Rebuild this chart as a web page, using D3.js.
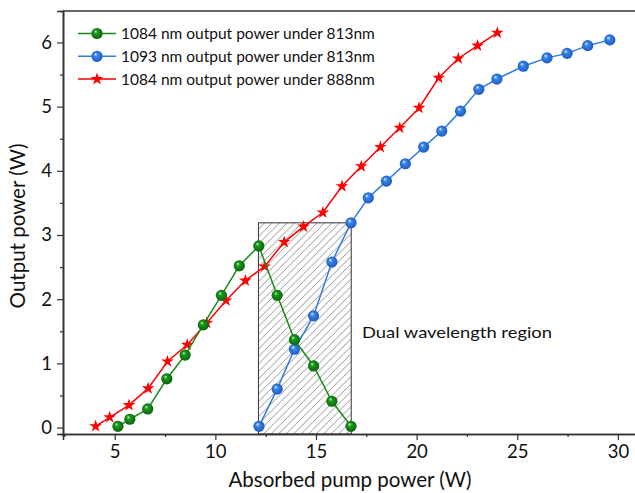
<!DOCTYPE html>
<html lang="en">
<head>
<meta charset="utf-8">
<title>Output power vs absorbed pump power</title>
<script src="https://cdn.jsdelivr.net/npm/d3@7"></script>
<style>
  body { margin: 0; background: #fff; }
  svg text { font-family: Lato, "Open Sans", sans-serif; fill: #111; }
</style>
</head>
<body>
<div id="chart"></div>
<script>
// 1084 nm output under 813 nm pump (green)
var green813X = [5.16, 5.75, 6.64, 7.59, 8.5, 9.4, 10.3, 11.19, 12.16, 13.07, 13.93, 14.88, 15.79, 16.74];
var green813Y = [0.02, 0.13, 0.29, 0.76, 1.13, 1.6, 2.06, 2.52, 2.83, 2.06, 1.37, 0.96, 0.41, 0.02];
// 1093 nm output under 813 nm pump (blue)
var blue813X = [12.17, 13.07, 13.93, 14.88, 15.79, 16.74, 17.6, 18.5, 19.44, 20.35, 21.25, 22.18, 23.09, 23.99, 25.3, 26.48, 27.48, 28.5, 29.6];
var blue813Y = [0.02, 0.6, 1.22, 1.74, 2.58, 3.19, 3.58, 3.84, 4.11, 4.37, 4.62, 4.93, 5.27, 5.43, 5.63, 5.76, 5.83, 5.95, 6.04];
// 1084 nm output under 888 nm pump (red)
var red888X = [4.05, 4.75, 5.71, 6.66, 7.62, 8.6, 9.57, 10.53, 11.49, 12.45, 13.42, 14.38, 15.34, 16.29, 17.25, 18.2, 19.16, 20.12, 21.1, 22.07, 23.03, 24.01];
var red888Y = [0.02, 0.16, 0.35, 0.61, 1.03, 1.29, 1.63, 1.98, 2.29, 2.51, 2.89, 3.13, 3.35, 3.76, 4.07, 4.37, 4.67, 4.98, 5.45, 5.75, 5.95, 6.15];

var seriesNames = ["1084 nm output power under 813nm", "1093 nm output power under 813nm", "1084 nm output power under 888nm"];
var xTicks = [5, 10, 15, 20, 25, 30];
var yTicks = [0, 1, 2, 3, 4, 5, 6];
// dual wavelength region (x from, x to, top y)
var regionX = [12.14, 16.75];
var regionTop = 3.19;
var regionLabel = "Dual wavelength region";

var W = 635, H = 493;
var margin = {left: 63, top: 11, right: -2, bottom: 59};

var svg = d3.select("#chart").append("svg")
    .attr("width", W).attr("height", H);

var x = d3.scaleLinear().domain([2.43, 30.95]).range([margin.left, W - margin.right]);
var y = d3.scaleLinear().domain([-0.1, 6.49]).range([H - margin.bottom, margin.top]);

var defs = svg.append("defs");

// hatch pattern for the region, lines rising to the right
var hs = 7.5;
var pat = defs.append("pattern")
    .attr("id", "hatch")
    .attr("patternUnits", "userSpaceOnUse")
    .attr("width", hs).attr("height", hs);
pat.append("path")
    .attr("d", "M0," + hs + "L" + hs + ",0")
    .attr("stroke", "#666").attr("stroke-width", 0.7);

// shiny ball gradients
function ballGrad(id, light, mid, dark) {
    var g = defs.append("radialGradient")
        .attr("id", id)
        .attr("cx", "50%").attr("cy", "50%").attr("r", "55%")
        .attr("fx", "35%").attr("fy", "30%");
    g.append("stop").attr("offset", "0%").attr("stop-color", light);
    g.append("stop").attr("offset", "30%").attr("stop-color", mid);
    g.append("stop").attr("offset", "100%").attr("stop-color", dark);
}
ballGrad("gGreen", "#c8eec0", "#1a9a1a", "#0a5e0a");
ballGrad("gBlue", "#eef5ff", "#3a86ea", "#1a55b8");

// region box
svg.append("rect")
    .attr("x", x(regionX[0]))
    .attr("y", y(regionTop))
    .attr("width", x(regionX[1]) - x(regionX[0]))
    .attr("height", y(-0.1) - y(regionTop))
    .attr("fill", "url(#hatch)")
    .attr("stroke", "#333").attr("stroke-width", 1);

svg.append("text")
    .attr("x", 362).attr("y", 338)
    .attr("font-size", 16)
    .attr("textLength", 190)
    .attr("lengthAdjust", "spacingAndGlyphs")
    .text(regionLabel);

// axes
var xAxis = d3.axisBottom(x).tickValues(xTicks).tickSize(6).tickPadding(5).tickFormat(d3.format("d"));
var xMinor = d3.axisBottom(x).tickValues(d3.range(2.5, 31, 2.5).filter(function(v) { return v % 5 != 0; })).tickSize(3).tickFormat("");
var yAxis = d3.axisLeft(y).tickValues(yTicks).tickSize(6).tickPadding(5).tickFormat(d3.format("d"));
var yMinor = d3.axisLeft(y).tickValues(d3.range(0.5, 6.5, 1)).tickSize(3).tickFormat("");

var gx = svg.append("g").attr("transform", "translate(0," + (H - margin.bottom) + ")").call(xAxis);
svg.append("g").attr("transform", "translate(0," + (H - margin.bottom) + ")").call(xMinor);
var gy = svg.append("g").attr("transform", "translate(" + margin.left + ",0)").call(yAxis);
svg.append("g").attr("transform", "translate(" + margin.left + ",0)").call(yMinor);

svg.selectAll(".domain").attr("stroke", "#333").attr("stroke-width", 1.6);
svg.selectAll(".tick line").attr("stroke", "#333").attr("stroke-width", 1.2);
gx.selectAll("text").attr("font-size", 18.5).attr("font-family", "Lato, sans-serif").attr("fill", "#111");
gy.selectAll("text").attr("font-size", 18.5).attr("font-family", "Lato, sans-serif").attr("fill", "#111");

// top frame line
svg.append("line")
    .attr("x1", margin.left).attr("x2", W)
    .attr("y1", margin.top).attr("y2", margin.top)
    .attr("stroke", "#333").attr("stroke-width", 1.6);

// axis titles
svg.append("text")
    .attr("x", 350).attr("y", 487)
    .attr("text-anchor", "middle")
    .attr("font-size", 20.5)
    .text("Absorbed pump power (W)");
svg.append("text")
    .attr("transform", "translate(25,226) rotate(-90)")
    .attr("text-anchor", "middle")
    .attr("font-size", 20.5)
    .text("Output power (W)");

// series
function zip(xs, ys) { return xs.map(function(v, i) { return [v, ys[i]]; }); }
var line = d3.line().x(function(d) { return x(d[0]); }).y(function(d) { return y(d[1]); });

var series = [
    {name: seriesNames[0], data: zip(green813X, green813Y), color: "#1a8c1a", marker: "ball", fill: "url(#gGreen)"},
    {name: seriesNames[1], data: zip(blue813X, blue813Y), color: "#2f7ee0", marker: "ball", fill: "url(#gBlue)"},
    {name: seriesNames[2], data: zip(red888X, red888Y), color: "#ff0000", marker: "star", fill: "#ff0000"}
];

var star = d3.symbol().type(d3.symbolStar).size(50);

function drawMarker(g, s, px, py) {
    if (s.marker == "ball") {
        g.append("circle").attr("cx", px).attr("cy", py).attr("r", 5.6)
            .attr("fill", s.fill);
    } else {
        g.append("path").attr("d", star()).attr("transform", "translate(" + px + "," + py + ")")
            .attr("fill", s.fill);
    }
}

// draw red first, then blue, then green on top
[2, 1, 0].forEach(function(i) {
    var s = series[i];
    var g = svg.append("g");
    g.append("path").datum(s.data)
        .attr("d", line)
        .attr("fill", "none")
        .attr("stroke", s.color)
        .attr("stroke-width", 1.5);
    s.data.forEach(function(d) { drawMarker(g, s, x(d[0]), y(d[1])); });
});

// legend
var leg = svg.append("g");
series.forEach(function(s, i) {
    var ly = 33.5 + i * 22.8;
    leg.append("line").attr("x1", 78).attr("x2", 116).attr("y1", ly).attr("y2", ly)
        .attr("stroke", s.color).attr("stroke-width", 1.5);
    drawMarker(leg, s, 97, ly);
    leg.append("text").attr("x", 121).attr("y", ly + 5.5)
        .attr("font-size", 15.5)
        .text(s.name);
});
</script>
</body>
</html>
